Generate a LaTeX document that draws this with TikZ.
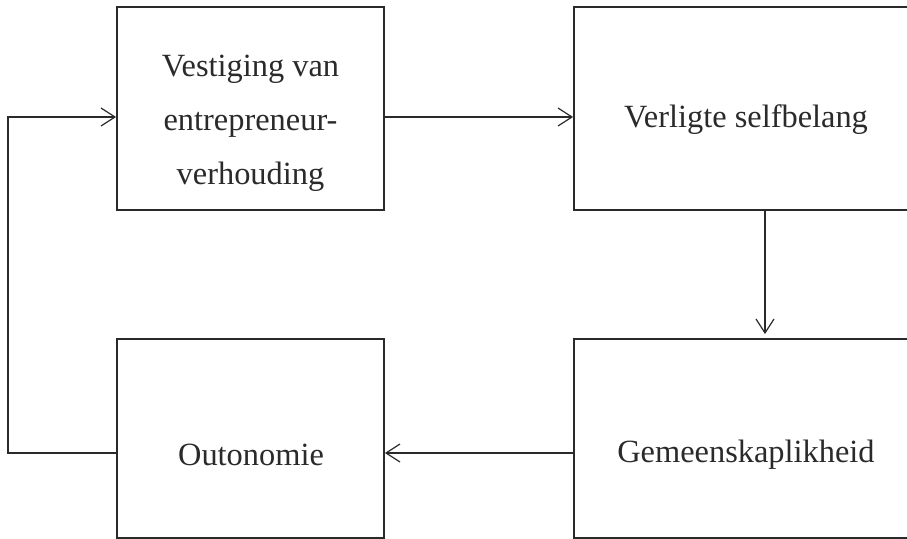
\documentclass[tikz,border=0pt]{standalone}
\usepackage{fontspec}
\setmainfont{Liberation Serif}
\usetikzlibrary{arrows.meta,fit}
\definecolor{ink}{HTML}{2A2A2A}
\begin{document}
\begin{tikzpicture}[x=0.5pt,y=-0.5pt,
  box/.style={draw=ink, line width=0.9pt, inner sep=0pt, rectangle},
  lbl/.style={align=center, inner sep=0pt, text=ink, font=\fontsize{16.2}{27}\selectfont},
  conn/.style={draw=ink, line width=0.6pt},
  arr/.style={conn, -{Straight Barb[length=7pt,width=9pt,line width=0.6pt]}}]
  \useasboundingbox (0,0) rectangle (907,539);
  \clip (0,0) rectangle (907,539);
  % the four blocks (right and lower ones run off the page)
  \node[box, fit={(117,7) (384,210)}] (tl) {};
  \node[box, fit={(574,7) (930,210)}] (tr) {};
  \node[box, fit={(117,339) (384,538)}] (bl) {};
  \node[box, fit={(574,339) (930,538)}] (br) {};
  % block texts
  \node[lbl] (tltext) at (250.5,123) {Vestiging van\\entrepreneur-\\verhouding};
  \node[lbl] (trtext) at (746,120) {Verligte selfbelang};
  \node[lbl] (bltext) at (251,455) {Outonomie};
  \node[lbl] (brtext) at (746,455) {Gemeenskaplikheid};
  % helper coordinates for the connector runs
  \coordinate (rowA) at (0,117);
  \coordinate (rowB) at (0,453);
  \coordinate (colC) at (765,0);
  \coordinate (loop) at (8,0);
  % connectors
  \draw[arr] (tl.east |- rowA) -- (tr.west |- rowA);
  \draw[arr, shorten >=2pt] (tr.south -| colC) -- (br.north -| colC);
  \draw[arr] (br.west |- rowB) -- (bl.east |- rowB);
  \draw[arr] (bl.west |- rowB) -- (loop |- rowB) -- (loop |- rowA) -- (tl.west |- rowA);
\end{tikzpicture}
\end{document}
